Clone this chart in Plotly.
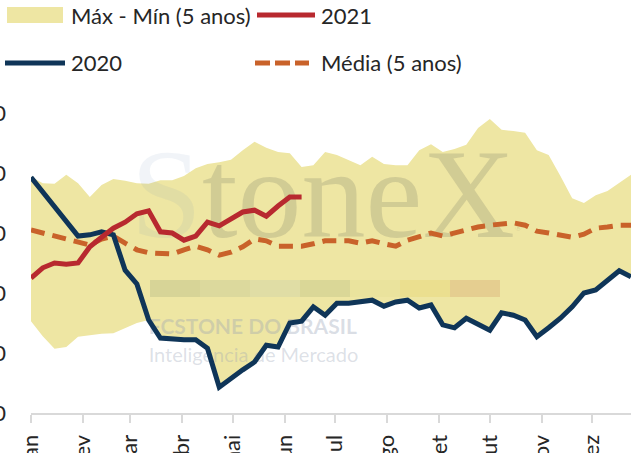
import plotly.graph_objects as go

# ---------------- data ----------------
weeks = list(range(1, 53))

max_5y = [79.4, 78.3, 78.2, 79.7, 78.3, 76.0, 78.0, 79.0, 78.7, 78.3,
          78.2, 78.8, 78.8, 79.5, 80.8, 81.5, 81.8, 82.2, 83.8, 85.2,
          84.2, 83.5, 83.3, 81.0, 81.3, 83.5, 83.0, 82.2, 81.3, 82.7,
          81.5, 81.3, 81.3, 83.8, 84.8, 83.5, 84.0, 84.7, 87.5, 89.0,
          87.2, 87.0, 86.7, 83.8, 83.0, 79.5, 75.8, 75.0, 76.3, 77.0,
          78.3, 79.7]

min_5y = [55.3, 52.8, 50.7, 51.0, 52.7, 53.0, 53.2, 53.3, 54.2, 55.0,
          55.5, 52.5, 52.3, 52.2, 52.2, 50.8, 44.3, 45.8, 47.2, 48.5,
          51.3, 51.0, 55.0, 55.3, 57.7, 56.3, 58.3, 58.3, 58.5, 58.8,
          57.8, 58.5, 58.8, 57.5, 58.0, 54.7, 54.2, 55.8, 54.8, 53.8,
          56.7, 56.3, 55.5, 52.7, 54.2, 55.8, 57.7, 60.0, 60.5, 62.2,
          63.7, 62.7]

y2020 = [79.3, 76.8, 74.3, 72.0, 69.5, 69.7, 70.2, 69.7, 63.8, 61.5,
         55.5, 52.5, 52.3, 52.2, 52.2, 50.8, 44.3, 45.8, 47.2, 48.5,
         51.3, 51.0, 55.0, 55.3, 57.7, 56.3, 58.3, 58.3, 58.5, 58.8,
         57.8, 58.5, 58.8, 57.5, 58.0, 54.7, 54.2, 55.8, 54.8, 53.8,
         56.7, 56.3, 55.5, 52.7, 54.2, 55.8, 57.7, 60.0, 60.5, 62.2,
         63.7, 62.7]

y2021 = [62.5, 64.2, 65.0, 64.8, 65.0, 67.7, 69.3, 70.8, 71.8, 73.2,
         73.7, 70.2, 70.0, 68.8, 69.5, 71.8, 71.2, 72.3, 73.5, 73.8,
         72.8, 74.5, 76.0, 76.0]

media_5y = [70.5, 70.0, 69.5, 69.2, 68.7, 68.0, 69.0, 69.5, 68.3, 67.2,
            66.7, 66.7, 66.5, 67.2, 67.8, 67.2, 66.3, 66.8, 67.7, 69.0,
            68.7, 67.8, 67.7, 67.8, 68.2, 68.7, 68.7, 68.7, 68.3, 68.7,
            68.2, 67.8, 68.8, 69.3, 70.0, 69.5, 70.0, 70.7, 71.0, 71.3,
            71.5, 71.7, 71.3, 70.3, 70.0, 69.7, 69.3, 69.8, 70.8, 71.0,
            71.3, 71.3]

month_labels = ["jan", "fev", "mar", "abr", "mai", "jun",
                "jul", "ago", "set", "out", "nov", "dez"]
month_start_day = [0, 31, 59, 90, 120, 151, 181, 212, 243, 273, 304, 334]
y_ticks = [40, 50, 60, 70, 80, 90]

# ---------------- styling ----------------
W, H = 631, 453
ML, MR, MT, MB = 31, 0, 113, 40
PW, PH = W - ML - MR, H - MT - MB

BAND = "#EEE6A3"
RED = "#B8292F"
NAVY = "#0F3558"
ORANGE = "#C9622A"
TXT = "#262626"
AXIS = "#D9D9D9"
FONT = "Lato"


def px_x(px):
    return (px - ML) / PW


def px_y(py):
    return (H - MB - py) / PH


tickvals = [1 + d / 7 for d in month_start_day]

fig = go.Figure()

# band (min-max)
fig.add_trace(go.Scatter(x=weeks, y=min_5y, mode="lines", line=dict(width=0),
                         hoverinfo="skip", showlegend=False))
fig.add_trace(go.Scatter(x=weeks, y=max_5y, mode="lines", line=dict(width=0),
                         fill="tonexty", fillcolor=BAND, name="Máx - Mín (5 anos)",
                         showlegend=False))

# watermark (drawn between band and lines)
wm_week, wm_val = 26.1, 74.7
fig.add_trace(go.Scatter(
    x=[wm_week], y=[wm_val], mode="text",
    text=["<span style='color:rgba(110,140,185,0.33)'>S</span>toneX"
          "<span style='font-size:13px'><sup>®</sup></span>"],
    textposition="middle center",
    textfont=dict(family="Liberation Serif", size=128, color="rgba(135,135,110,0.28)"),
    hoverinfo="skip", showlegend=False))
fig.add_trace(go.Scatter(
    x=[11.0], y=[54.0], mode="text", text=["<b>FCSTONE DO BRASIL</b>"],
    textposition="middle right",
    textfont=dict(family=FONT, size=21, color="rgba(150,160,180,0.35)"),
    hoverinfo="skip", showlegend=False))
fig.add_trace(go.Scatter(
    x=[11.0], y=[49.4], mode="text", text=["Inteligência de Mercado"],
    textposition="middle right",
    textfont=dict(family=FONT, size=20, color="rgba(150,160,180,0.33)"),
    hoverinfo="skip", showlegend=False))

# lines
fig.add_trace(go.Scatter(x=weeks, y=media_5y, mode="lines", name="Média (5 anos)",
                         line=dict(color=ORANGE, width=5, dash="14px,8px"),
                         showlegend=False))
fig.add_trace(go.Scatter(x=weeks, y=y2020, mode="lines", name="2020",
                         line=dict(color=NAVY, width=5), showlegend=False))
fig.add_trace(go.Scatter(x=weeks[:len(y2021)], y=y2021, mode="lines", name="2021",
                         line=dict(color=RED, width=5), showlegend=False))

# watermark colour strip
strip_colors = ["#D7D497", "#DCD99D", "#E0DDA5", "#DAD797", "#EAE39D", "#EBDF8F", "#E5CE90"]
shapes = []
for i, c in enumerate(strip_colors):
    shapes.append(dict(type="rect", xref="paper", yref="paper",
                       x0=px_x(150 + 50 * i), x1=px_x(200 + 50 * i),
                       y0=px_y(297), y1=px_y(280),
                       fillcolor=c, line=dict(width=0), layer="above"))

# manual legend
shapes.append(dict(type="rect", xref="paper", yref="paper",
                   x0=px_x(7), x1=px_x(63), y0=px_y(23), y1=px_y(7),
                   fillcolor=BAND, line=dict(width=0)))
shapes.append(dict(type="line", xref="paper", yref="paper",
                   x0=px_x(257), x1=px_x(315), y0=px_y(15), y1=px_y(15),
                   line=dict(color=RED, width=5)))
shapes.append(dict(type="line", xref="paper", yref="paper",
                   x0=px_x(5), x1=px_x(65), y0=px_y(63), y1=px_y(63),
                   line=dict(color=NAVY, width=5)))
shapes.append(dict(type="line", xref="paper", yref="paper",
                   x0=px_x(255), x1=px_x(309), y0=px_y(63), y1=px_y(63),
                   line=dict(color=ORANGE, width=5, dash="15px,5px")))

annotations = []
for txt, x, y in [("Máx - Mín (5 anos)", 69, 15), ("2021", 319, 15),
                  ("2020", 69, 63), ("Média (5 anos)", 319, 63)]:
    annotations.append(dict(text=txt, xref="paper", yref="paper",
                            x=px_x(x), y=px_y(y), xanchor="left", yanchor="middle",
                            showarrow=False, font=dict(family=FONT, size=22, color=TXT)))

fig.update_layout(
    width=W, height=H,
    margin=dict(l=ML, r=MR, t=MT, b=MB, pad=0),
    paper_bgcolor="white", plot_bgcolor="white",
    showlegend=False,
    shapes=shapes, annotations=annotations,
    font=dict(family=FONT, size=22, color=TXT),
    xaxis=dict(range=[1, 52], tickmode="array", tickvals=tickvals, ticktext=month_labels,
               tickangle=-90, showgrid=False, zeroline=False,
               showline=True, linecolor=AXIS, linewidth=2,
               ticks="outside", ticklen=8, tickwidth=2, tickcolor=AXIS,
               ticklabelstandoff=3, automargin=False,
               tickfont=dict(family=FONT, size=22, color=TXT)),
    yaxis=dict(range=[40, 90], tickmode="array", tickvals=y_ticks,
               showgrid=False, zeroline=False, showline=False, ticks="",
               ticklabelstandoff=24, automargin=False,
               tickfont=dict(family=FONT, size=22, color=TXT)),
)

fig.write_html("out.html",
               config={"displayModeBar": False},
               post_script="document.body.style.margin='0px';"
                           "document.body.style.overflow='hidden';")
